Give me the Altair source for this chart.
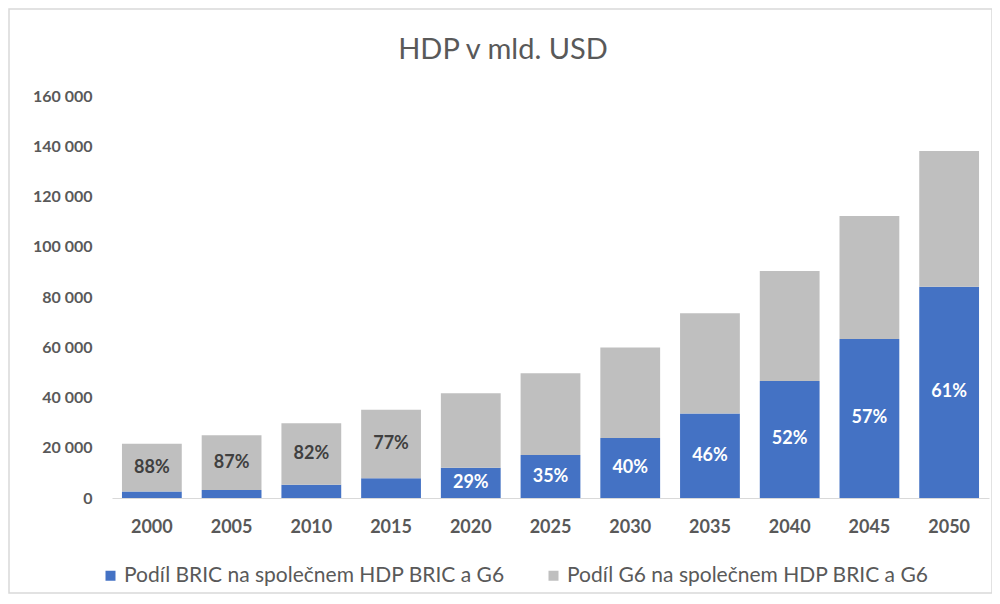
import altair as alt
import pandas as pd

years = ["2000", "2005", "2010", "2015", "2020", "2025", "2030", "2035", "2040", "2045", "2050"]
bric = [2600, 3200, 5300, 7900, 12000, 17100, 23900, 33600, 46600, 63300, 84100]
g6 = [19000, 21800, 24500, 27200, 29700, 32600, 36000, 39900, 43700, 48900, 54000]
label_text = ["88%", "87%", "82%", "77%", "29%", "35%", "40%", "46%", "52%", "57%", "61%"]
label_series = ["G6", "G6", "G6", "G6", "BRIC", "BRIC", "BRIC", "BRIC", "BRIC", "BRIC", "BRIC"]
series_names = ["Podíl BRIC na společnem HDP BRIC a G6", "Podíl G6 na společnem HDP BRIC a G6"]
series_colors = ["#4472C4", "#BFBFBF"]
y_ticks = [0, 20000, 40000, 60000, 80000, 100000, 120000, 140000, 160000]
title_text = "HDP v mld. USD"

FONT = "Lato"
TXT = "#595959"

rows = []
for i, y in enumerate(years):
    rows.append({"year": y, "series": series_names[0], "value": bric[i], "ord": 0})
    rows.append({"year": y, "series": series_names[1], "value": g6[i], "ord": 1})
bars_df = pd.DataFrame(rows)

lab_rows = []
for i, y in enumerate(years):
    if label_series[i] == "BRIC":
        mid = bric[i] / 2
        tc = "#FFFFFF"
    else:
        mid = bric[i] + g6[i] / 2
        tc = "#404040"
    lab_rows.append({"year": y, "mid": mid, "txt": label_text[i], "tc": tc})
lab_df = pd.DataFrame(lab_rows)

xscale = alt.Scale(paddingInner=0.25, paddingOuter=0.125)
yscale = alt.Scale(domain=[0, 160000], nice=False)

bars = alt.Chart(bars_df).mark_bar().encode(
    x=alt.X("year:N", scale=xscale, sort=years,
            axis=alt.Axis(title=None, labelAngle=0, ticks=False, domainColor="#D9D9D9",
                          labelFontSize=18, labelColor=TXT, labelFontWeight="bold",
                          labelPadding=20, labelFont=FONT)),
    y=alt.Y("value:Q", scale=yscale, stack="zero",
            axis=alt.Axis(title=None, values=y_ticks, format=",d", grid=False, ticks=False,
                          domain=False, labelFontSize=16, labelColor=TXT, labelFontWeight="bold",
                          labelPadding=20, labelFont=FONT)),
    color=alt.Color("series:N", scale=alt.Scale(domain=series_names, range=series_colors),
                    legend=alt.Legend(title=None, orient="none", direction="horizontal",
                                      legendX=-12, legendY=469, symbolType="square",
                                      symbolSize=100, symbolStrokeWidth=0, labelFontSize=21,
                                      labelColor=TXT, labelFont=FONT, columnPadding=38,
                                      labelOffset=3, labelLimit=0)),
    order=alt.Order("ord:Q", sort="ascending"),
)

labels = alt.Chart(lab_df).mark_text(fontSize=18, font=FONT, fontWeight="bold").encode(
    x=alt.X("year:N", scale=xscale, sort=years),
    y=alt.Y("mid:Q", scale=yscale),
    text="txt:N",
    color=alt.Color("tc:N", scale=None),
)

frame = alt.Chart(alt.Data(values=[{"a": 1}])).mark_rect(
    fillOpacity=0, stroke="#D9D9D9", strokeWidth=1.5
).encode(
    x=alt.value(-103), x2=alt.value(880),
    y=alt.value(-87), y2=alt.value(497),
)

title = alt.Chart(alt.Data(values=[{"t": title_text}])).mark_text(
    fontSize=29, font=FONT, color=TXT, align="center", baseline="alphabetic"
).encode(
    x=alt.value(391), y=alt.value(-37), text="t:N",
)

chart = alt.layer(frame, bars, labels, title).properties(
    width=877, height=402,
    autosize="none",
    padding={"left": 104, "right": 3, "top": 88, "bottom": 98},
).configure(
    locale={"number": {"decimal": ",", "thousands": " ", "grouping": [3], "currency": ["", " Kč"]}}
).configure_view(strokeWidth=0, stroke="transparent")

chart.save("out.html", embed_options={"renderer": "svg", "actions": False})
